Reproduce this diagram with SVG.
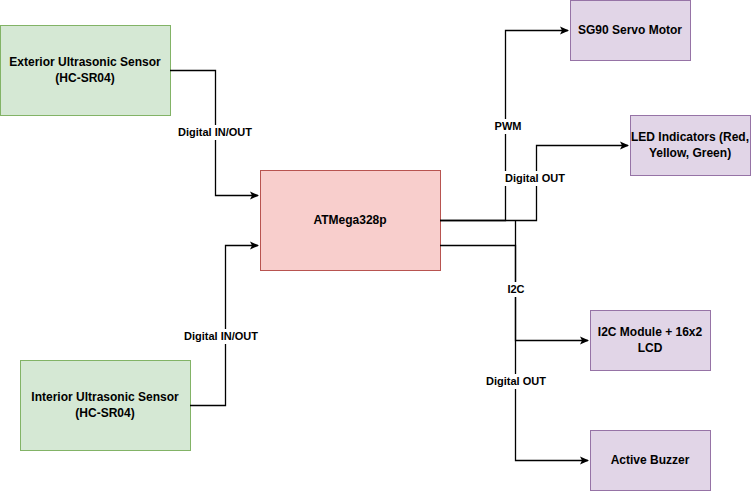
<svg xmlns="http://www.w3.org/2000/svg" width="751" height="491" viewBox="0 0 751 491">
<style>
.g{fill:#d5e8d4;stroke:#82b366}.r{fill:#f8cecc;stroke:#b85450}.p{fill:#e1d5e7;stroke:#9673a6}
text{font-family:"Liberation Sans",Arial,sans-serif;font-size:12px;font-weight:bold;text-anchor:middle;fill:#000}
.c{fill:none;stroke:#000;stroke-width:1.3}
.l{font-size:11px}
</style>
<defs><marker id="a" markerWidth="10" markerHeight="10" refX="8" refY="5" orient="auto" markerUnits="userSpaceOnUse"><path d="M0,1L9,5L0,9L2,5z" fill="#000"/></marker></defs>
<g id="ext"><rect class="g" x="0.5" y="25.5" width="170" height="90"/><text x="85" y="66">Exterior Ultrasonic Sensor</text><text x="85" y="82">(HC-SR04)</text></g>
<g id="int"><rect class="g" x="20.5" y="360.5" width="170" height="90"/><text x="105" y="401">Interior Ultrasonic Sensor</text><text x="105" y="417">(HC-SR04)</text></g>
<g id="mcu"><rect class="r" x="260.5" y="170.5" width="180" height="100"/><text x="350" y="224">ATMega328p</text></g>
<g id="servo"><rect class="p" x="570.5" y="0.5" width="120" height="60"/><text x="630" y="34">SG90 Servo Motor</text></g>
<g id="led"><rect class="p" x="630.5" y="115.5" width="120" height="60"/><text x="690" y="141">LED Indicators (Red,</text><text x="690" y="157">Yellow, Green)</text></g>
<g id="lcd"><rect class="p" x="590.5" y="310.5" width="120" height="60"/><text x="650" y="336">I2C Module + 16x2</text><text x="650" y="352">LCD</text></g>
<g id="buzz"><rect class="p" x="590.5" y="430.5" width="120" height="60"/><text x="650" y="464">Active Buzzer</text></g>
<g id="connectors">
<path class="c" d="M170,70.5H215.5V195.5H258" marker-end="url(#a)"/>
<path class="c" d="M190,405.5H225.5V245.5H258" marker-end="url(#a)"/>
<path class="c" d="M440,220.5H505.5V30.5H568" marker-end="url(#a)"/>
<path class="c" d="M440,220.5H536.5V145.5H628" marker-end="url(#a)"/>
<path class="c" d="M440,245.5H515.5V340.5H588" marker-end="url(#a)"/>
<path class="c" d="M515.5,220.5V460.5H588" marker-end="url(#a)"/>
<rect x="172" y="125" width="86" height="15" fill="#fff"/><text class="l" x="215" y="136">Digital IN/OUT</text>
<rect x="182" y="329" width="86" height="15" fill="#fff"/><text class="l" x="221" y="340">Digital IN/OUT</text>
<rect x="492" y="119" width="30" height="15" fill="#fff"/><text class="l" x="508" y="130">PWM</text>
<rect x="504" y="171" width="62" height="15" fill="#fff"/><text class="l" x="535" y="182">Digital OUT</text>
<rect x="505" y="282" width="22" height="15" fill="#fff"/><text class="l" x="516" y="293">I2C</text>
<rect x="485" y="374" width="62" height="15" fill="#fff"/><text class="l" x="516" y="385">Digital OUT</text>
</g>
</svg>
